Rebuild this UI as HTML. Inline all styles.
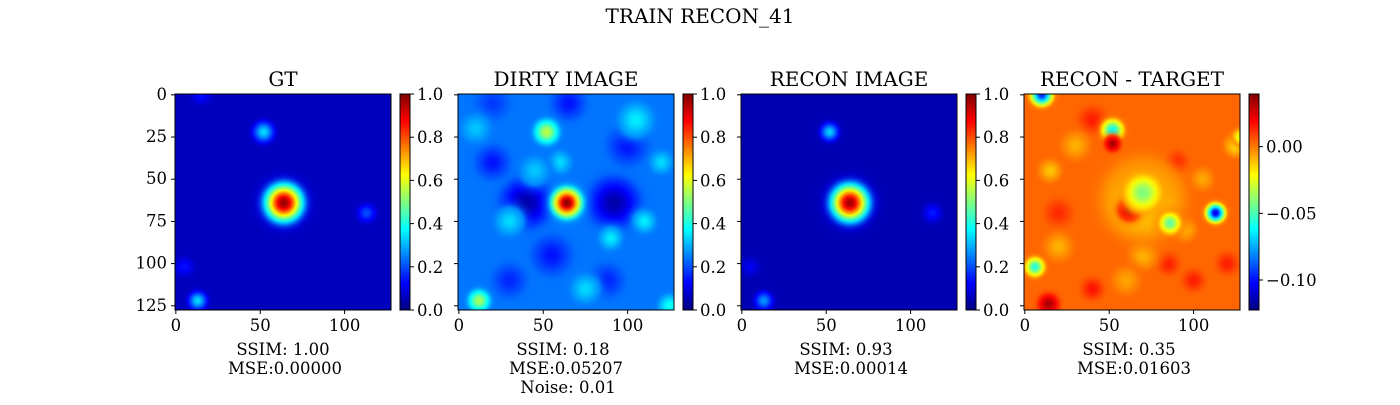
<!DOCTYPE html>
<html><head><meta charset="utf-8"><style>
body{margin:0;background:#fff;}
svg text{font-family:"DejaVu Serif","Liberation Serif",serif;fill:#000;}
</style></head><body>
<svg id="fig" width="1400" height="400" xmlns="http://www.w3.org/2000/svg">
<defs id="defs"></defs>
<text x="700" y="23" font-size="20" text-anchor="middle">TRAIN RECON_41</text>
</svg>
<script>
// ---- data: blobs as [x, y, amplitude, sigma] in pixel-index units ----
const gtBg = 0.06;
const gtBlobs = [[64,64,0.92,7.5],[52,22,0.28,4],[113,70,0.14,3.5],[13,122,0.28,3.5],[5,102,0.08,3.5],[15,0,0.08,3.5]];
const dirtyBg = 0.24;
const dirtyBlobs = [[40,64,-0.2,9],[92,64,-0.2,9],[20,40,-0.1,6],[100,30,-0.1,7],[55,95,-0.1,7],[88,110,-0.08,6],[30,110,-0.08,6],[65,5,-0.1,6],[20,5,-0.06,6],
 [105,15,0.12,6],[10,20,0.08,5],[120,40,0.1,4],[110,75,0.12,4],[90,85,0.12,4],[60,40,0.1,4],[45,45,0.08,5],[30,75,0.1,5],[75,115,0.1,5],[125,125,0.15,4],
 [52,22,0.32,4.5],[12,122,0.3,4],[64,64,0.75,5.5]];
const reconBg = 0.05;
const reconBlobs = [[64,64,0.92,7.5],[52,22,0.28,3.5],[113,70,0.1,3.5],[13,122,0.22,3.5],[5,102,0.06,3.5]];
const diffBg = 0.003;
const diffBlobs = [[40,15,0.012,5],[90,40,0.014,4],[20,70,0.01,5],[100,110,0.012,4],[85,100,0.012,4],[40,115,0.014,4],[120,100,0.012,4],
 [15,45,-0.015,4],[30,30,-0.012,5],[70,95,-0.015,5],[105,50,-0.012,4],[20,90,-0.012,5],[60,110,-0.01,5],[125,30,-0.02,4],[95,80,-0.015,4],
 [70,62,-0.025,14],[52,21,-0.065,4],[52,29,0.03,3],[62,68,0.028,4],[70,58,-0.045,7],[86,76,-0.05,4],[113,70,-0.11,3.5],[6,102,-0.06,3.5],[14,124,0.03,4],[10,0,-0.1,4],[128,25,-0.03,3]];
const cbTicks = [0,0.2,0.4,0.6,0.8,1.0];
const diffTicks = [0.0,-0.05,-0.10];
const diffTickLabels = ["0.00","\u22120.05","\u22120.10"];
const diffMin = -0.1225, diffMax = 0.0395;
const axTicksY = [0,25,50,75,100,125];
const axTicksX = [0,50,100];

const NS="http://www.w3.org/2000/svg";
const svg=document.getElementById('fig'), defs=document.getElementById('defs');
function jet(t){t=Math.max(0,Math.min(1,t));const c=v=>Math.round(255*Math.max(0,Math.min(1,v)));
 return `rgb(${c(1.5-Math.abs(4*t-3))},${c(1.5-Math.abs(4*t-2))},${c(1.5-Math.abs(4*t-1))})`;}
function el(tag,attrs,parent){const e=document.createElementNS(NS,tag);for(const k in attrs)e.setAttribute(k,attrs[k]);(parent||svg).appendChild(e);return e;}
let gid=0;
const T=94,S=216;
function panel(name,left,title,bg,blobs,vmin,vmax,cbTickVals,cbLabels,lines,lineX){
 const sc=S/128, X=d=>left+(d+0.5)*sc, Y=d=>T+(d+0.5)*sc, N=v=>(v-vmin)/(vmax-vmin);
 const g=el('g',{});
 
 
 const cp=el('clipPath',{id:'cp'+name},defs); el('rect',{x:left,y:T,width:S,height:S},cp);
 const img=el('g',{'clip-path':`url(#cp${name})`},g);
 
 
 el('rect',{x:left,y:T,width:S,height:S,fill:jet(N(bg))},img);
 blobs.forEach(b=>{
  const id='rg'+(gid++); const rg=el('radialGradient',{id},defs);
  for(let k=0;k<=12;k++){const r=k/12*3;const e=Math.exp(-r*r/2);const v=bg+b[2]*e;
   el('stop',{offset:k/12,'stop-color':jet(N(v)),'stop-opacity':Math.min(1,e*4).toFixed(3)},rg);}
  const c=el('circle',{cx:X(b[0]),cy:Y(b[1]),r:3*b[3]*sc,fill:`url(#${id})`},img);
  
  
 });
 el('rect',{x:left,y:T,width:S,height:S,fill:'none',stroke:'#000','stroke-width':1},g);
 const t=el('text',{x:left+S/2,y:T-8,'font-size':20,'text-anchor':'middle'},g); t.textContent=title;
 
 
 if(name==='gt'){axTicksY.forEach(v=>{el('line',{x1:left-4,x2:left,y1:Y(v),y2:Y(v),stroke:'#000'},g);
  const l=el('text',{x:left-8,y:Y(v)+5,'font-size':16.5,'text-anchor':'end'},g);l.textContent=v;
  
  });}
 else axTicksY.forEach(v=>el('line',{x1:left-4,x2:left,y1:Y(v),y2:Y(v),stroke:'#000'},g));
 axTicksX.forEach(v=>{el('line',{x1:X(v),x2:X(v),y1:T+S,y2:T+S+4,stroke:'#000'},g);
  const l=el('text',{x:X(v),y:T+S+21,'font-size':16.5,'text-anchor':'middle'},g);l.textContent=v;
  
  });
 const cx=left+S+9, cw=10;
 const lg=el('linearGradient',{id:'cb'+name,x1:0,y1:1,x2:0,y2:0},defs);
 for(let k=0;k<=8;k++)el('stop',{offset:k/8,'stop-color':jet(k/8)},lg);
 const cb=el('rect',{x:cx,y:T,width:cw,height:S,fill:`url(#cb${name})`,stroke:'#000','stroke-width':1},g);
 
 
 cbTickVals.forEach((v,i)=>{const yy=T+S-N(v)*S;el('line',{x1:cx+cw,x2:cx+cw+4,y1:yy,y2:yy,stroke:'#000'},g);
  const l=el('text',{x:cx+cw+7,y:yy+6,'font-size':16.5},g);l.textContent=cbLabels[i];
  
  });
 lines.forEach((s,i)=>{const l=el('text',{x:lineX[i],y:355+i*19,'font-size':16.5,'text-anchor':'middle'},g);l.textContent=s;
  
  });
}
const cbl=cbTicks.map(v=>v.toFixed(1));
panel('gt',175,'GT',gtBg,gtBlobs,0,1,cbTicks,cbl,['SSIM: 1.00','MSE:0.00000'],[283,285]);
panel('dirty',458,'DIRTY IMAGE',dirtyBg,dirtyBlobs,0,1,cbTicks,cbl,['SSIM: 0.18','MSE:0.05207','Noise: 0.01'],[563,566,568]);
panel('recon',741,'RECON IMAGE',reconBg,reconBlobs,0,1,cbTicks,cbl,['SSIM: 0.93','MSE:0.00014'],[846,851]);
panel('diff',1024,'RECON - TARGET',diffBg,diffBlobs,diffMin,diffMax,diffTicks,diffTickLabels,['SSIM: 0.35','MSE:0.01603'],[1129,1134]);
</script>
</body></html>
